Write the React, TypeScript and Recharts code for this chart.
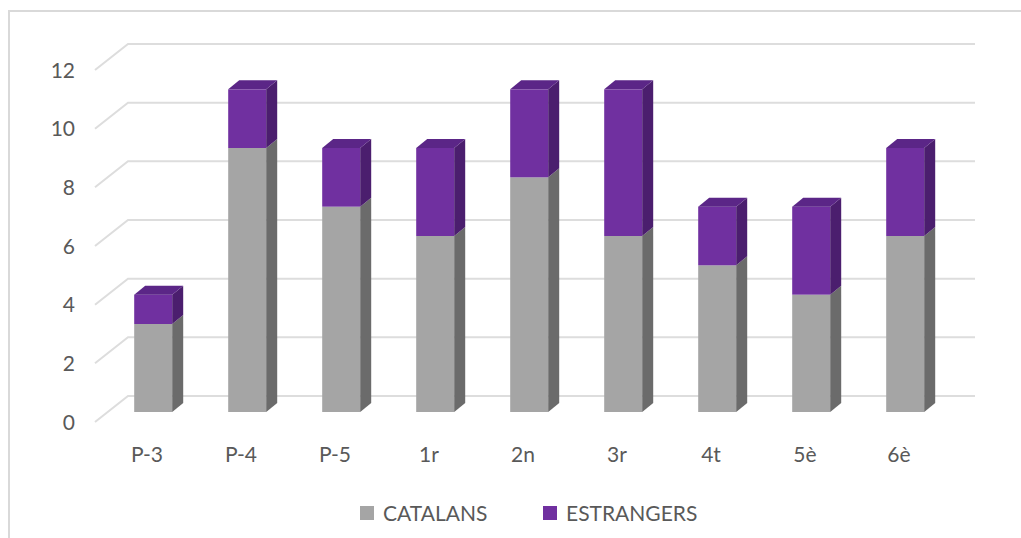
import React from 'react';
import { BarChart, Bar, XAxis, YAxis, CartesianGrid, Legend } from 'recharts';

const TEXT = '#595959';
const GRID = '#DDDDDD';
const FONT = 'Lato, "Open Sans", sans-serif';

// 3D depth of each column and of the back wall
const DX = 11;
const DY = 9;

const categories = ['P-3', 'P-4', 'P-5', '1r', '2n', '3r', '4t', '5è', '6è'];
const catalans = [3, 9, 7, 6, 8, 6, 5, 4, 6];
const estrangers = [1, 2, 2, 3, 3, 5, 2, 3, 3];
const yTicks = [0, 2, 4, 6, 8, 10, 12];

const data = categories.map((name, i) => ({
  name,
  catalans: catalans[i],
  estrangers: estrangers[i],
}));

const SERIES = [
  { key: 'catalans', label: 'CATALANS', front: '#A5A5A5', side: '#6B6B6B', top: '#8A8A8A' },
  { key: 'estrangers', label: 'ESTRANGERS', front: '#7030A0', side: '#4B1E6E', top: '#5B2687' },
];

function box(front: string, side: string, top: string | null) {
  return (props: any) => {
    const { x, y, width, height } = props;
    if (!height || height <= 0) return <g />;
    const r = x + width;
    const b = y + height;
    return (
      <g>
        <rect x={x} y={y} width={width} height={height} fill={front} />
        <path d={`M${r},${y} L${r + DX},${y - DY} L${r + DX},${b - DY} L${r},${b} Z`} fill={side} />
        {top && (
          <path d={`M${x},${y} L${x + DX},${y - DY} L${r + DX},${y - DY} L${r},${y} Z`} fill={top} />
        )}
      </g>
    );
  };
}

// back wall gridline with the diagonal running to the front
function gridLine(props: any) {
  const { x1, x2, y1 } = props;
  return (
    <path
      key={props.key ?? `g-${y1}`}
      d={`M${x1 - 11},${y1 + 10} L${x1 + 22},${y1 - 16} L${x2 + 23},${y1 - 16}`}
      stroke={GRID}
      strokeWidth={2}
      fill="none"
    />
  );
}

const YTick = (props: any) => (
  <text x={75} y={props.y + 9} textAnchor="end" dominantBaseline="central" fill={TEXT} fontSize={21} fontFamily={FONT}>
    {props.payload.value}
  </text>
);

const XTick = (props: any) => (
  <text x={props.x - 6} y={453} textAnchor="middle" dominantBaseline="central" fill={TEXT} fontSize={21} fontFamily={FONT}>
    {props.payload.value}
  </text>
);

const LegendBox = () => (
  <div style={{ position: 'relative', height: 56, width: 1021 }}>
    {SERIES.map((s, i) => (
      <div
        key={s.key}
        style={{
          position: 'absolute',
          left: i === 0 ? 360 : 543,
          top: 18,
          display: 'flex',
          alignItems: 'center',
          fontFamily: FONT,
          fontSize: 21,
          color: TEXT,
        }}
      >
        <span style={{ width: 14, height: 14, background: s.front, display: 'inline-block', marginRight: 9 }} />
        {s.label}
      </div>
    ))}
  </div>
);

export default function App() {
  return (
    <div style={{ position: 'absolute', left: 0, top: 0, width: 1021, height: 538, background: '#fff', overflow: 'hidden' }}>
      <div
        style={{
          position: 'absolute',
          left: 8,
          top: 10,
          width: 1100,
          height: 600,
          borderLeft: '2px solid #D9D9D9',
          borderTop: '2px solid #D9D9D9',
        }}
      />
      <div style={{ position: 'absolute', left: 0, top: 0 }}>
        <BarChart
          width={1021}
          height={538}
          data={data}
          margin={{ top: 60, right: 69, left: 0, bottom: 0 }}
          barCategoryGap="30%"
        >
          <CartesianGrid vertical={false} horizontal={gridLine} />
          <XAxis dataKey="name" axisLine={false} tickLine={false} height={70} tick={<XTick />} interval={0} />
          <YAxis
            domain={[0, 12]}
            ticks={yTicks}
            axisLine={false}
            tickLine={false}
            width={106}
            tick={<YTick />}
          />
          <Legend
            verticalAlign="bottom"
            content={<LegendBox />}
            wrapperStyle={{ left: 0, width: 1021, bottom: 0, height: 56 }}
          />
          {SERIES.map((s, i) => (
            <Bar
              key={s.key}
              dataKey={s.key}
              stackId="a"
              isAnimationActive={false}
              shape={box(s.front, s.side, i === SERIES.length - 1 ? s.top : null)}
            />
          ))}
        </BarChart>
      </div>
    </div>
  );
}
